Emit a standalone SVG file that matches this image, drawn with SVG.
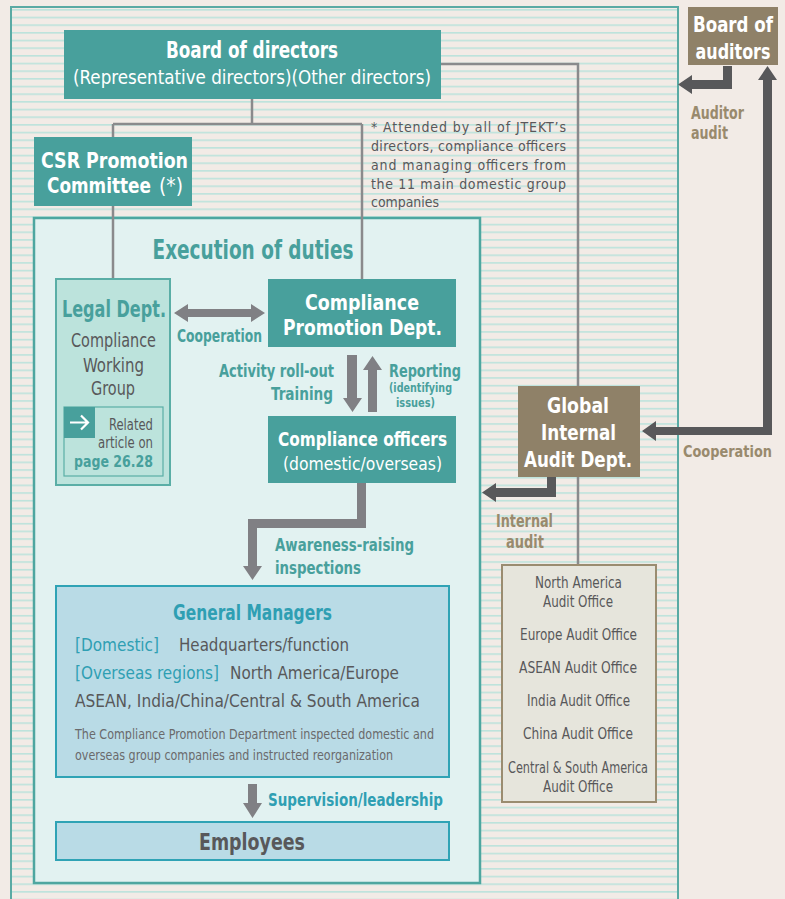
<svg xmlns="http://www.w3.org/2000/svg" width="785" height="899" viewBox="0 0 785 899">
<defs>
<pattern id="stripes" patternUnits="userSpaceOnUse" x="0" y="9" width="20" height="7.67">
<rect width="20" height="7.67" fill="#f2ebe6"/>
<rect y="0" width="20" height="1.6" fill="#bde3dc"/>
</pattern>
<style>
text{font-family:"Liberation Sans Narrow","DejaVu Sans Condensed","Liberation Sans",sans-serif;}
.b{font-weight:bold;}
.w{fill:#ffffff;}
.t{fill:#48a09c;}
.bl{fill:#2f9fb3;}
.g{fill:#58585a;}
.br{fill:#998a6d;}
.c{text-anchor:middle;}
.r{text-anchor:end;}
.teal{fill:#48a09c;}
.brown{fill:#8f8168;}
.line{fill:none;stroke:#8a8a8c;stroke-width:2.5;}
.ga{fill:#808084;}
.da{fill:#58585a;}
</style>
</defs>
<rect width="785" height="899" fill="#f2ebe6"/>
<rect x="11" y="7" width="667" height="900" fill="url(#stripes)" stroke="#5aaaa4" stroke-width="2"/>

<g id="execution-of-duties">
<rect x="34" y="218" width="446" height="665" fill="#e2f2f1" stroke="#4ea6a0" stroke-width="2.5"/>
<text class="b t c" x="253" y="259" font-size="27" textLength="201" lengthAdjust="spacingAndGlyphs">Execution of duties</text>
</g>

<g id="connectors">
<path class="line" d="M252 99 V124 M113 124 H362 M113 124 V279 M362 124 V279 M441 64 H578 V565"/>
<polygon class="ga" points="174,313 188,304 188,309 251,309 251,304 265,313 251,322 251,317 188,317 188,322"/>
<polygon class="ga" points="347,355 357,355 357,398 362,398 352.5,412 343,398 347,398"/>
<polygon class="ga" points="372.5,356 382,370 377,370 377,412 368,412 368,370 363,370"/>
<polygon class="ga" points="357,483 366,483 366,528 257,528 257,566 262,566 252.5,580 243,566 248,566 248,519 357,519"/>
<polygon class="ga" points="248,784 257,784 257,803 262,803 252.5,818 243,803 248,803"/>
<polygon class="da" points="723,66 732,66 732,89 692,89 692,94 678,84.5 692,75 692,80 723,80"/>
<polygon class="da" points="767.5,66 777,80 772,80 772,435 656,435 656,441 642,431 656,421 656,427 763,427 763,80 758,80"/>
<polygon class="da" points="547,477 556,477 556,497 496,497 496,502 482,492.5 496,483 496,488 547,488"/>
</g>

<g id="board-of-directors">
<rect class="teal" x="64" y="30" width="377" height="69"/>
<text class="b w c" x="252" y="58" font-size="23" textLength="172" lengthAdjust="spacingAndGlyphs">Board of directors</text>
<text class="w c" x="252" y="84" font-size="19" textLength="358" lengthAdjust="spacingAndGlyphs">(Representative directors)(Other directors)</text>
</g>

<g id="csr-committee">
<rect class="teal" x="34" y="137" width="158" height="69"/>
<text class="b w" x="41" y="168" font-size="22" textLength="147" lengthAdjust="spacingAndGlyphs">CSR Promotion</text>
<text class="b w" x="47" y="193" font-size="22" textLength="104" lengthAdjust="spacingAndGlyphs">Committee</text>
<text class="w" x="159" y="193" font-size="21" textLength="24" lengthAdjust="spacingAndGlyphs">(*)</text>
</g>

<g id="note">
<text class="g" x="371" y="132" font-size="14" textLength="195" lengthAdjust="spacing">* Attended by all of JTEKT’s</text>
<text class="g" x="371" y="151" font-size="14" textLength="195" lengthAdjust="spacing">directors, compliance officers</text>
<text class="g" x="371" y="170" font-size="14" textLength="195" lengthAdjust="spacing">and managing officers from</text>
<text class="g" x="371" y="189" font-size="14" textLength="195" lengthAdjust="spacing">the 11 main domestic group</text>
<text class="g" x="371" y="207" font-size="14" textLength="68" lengthAdjust="spacingAndGlyphs">companies</text>
</g>

<g id="board-of-auditors">
<rect class="brown" x="688" y="7" width="90" height="58"/>
<text class="b w c" x="733" y="32" font-size="21" textLength="80" lengthAdjust="spacingAndGlyphs">Board of</text>
<text class="b w c" x="733" y="59" font-size="21" textLength="75" lengthAdjust="spacingAndGlyphs">auditors</text>
</g>
<g id="label-auditor-audit">
<text class="b br" x="691" y="119" font-size="17" textLength="53" lengthAdjust="spacingAndGlyphs">Auditor</text>
<text class="b br" x="691" y="139" font-size="17" textLength="37" lengthAdjust="spacingAndGlyphs">audit</text>
</g>

<g id="legal-dept">
<rect x="56" y="279" width="114" height="206" fill="#bce3dc" stroke="#5aaea6" stroke-width="2"/>
<text class="b t c" x="114" y="317" font-size="23" textLength="104" lengthAdjust="spacingAndGlyphs">Legal Dept.</text>
<text class="g c" x="113.5" y="347" font-size="19" textLength="85" lengthAdjust="spacingAndGlyphs">Compliance</text>
<text class="g c" x="113.5" y="372" font-size="19" textLength="61" lengthAdjust="spacingAndGlyphs">Working</text>
<text class="g c" x="113" y="395" font-size="19" textLength="44" lengthAdjust="spacingAndGlyphs">Group</text>
<rect x="64" y="407" width="99" height="69" fill="none" stroke="#5aaea6" stroke-width="1.2"/>
<rect class="teal" x="64" y="407" width="31" height="31"/>
<path d="M70 422.5 H88 M81 415.5 L88 422.5 L81 429.5" fill="none" stroke="#ffffff" stroke-width="2.2"/>
<text class="g r" x="153" y="430" font-size="15" textLength="44" lengthAdjust="spacingAndGlyphs">Related</text>
<text class="g r" x="153" y="448" font-size="15" textLength="55" lengthAdjust="spacingAndGlyphs">article on</text>
<text class="b t r" x="153" y="467" font-size="16" textLength="79" lengthAdjust="spacingAndGlyphs">page 26.28</text>
</g>

<g id="label-cooperation">
<text class="b t" x="177" y="342" font-size="17" textLength="85" lengthAdjust="spacingAndGlyphs">Cooperation</text>
</g>

<g id="compliance-promotion-dept">
<rect class="teal" x="268" y="279" width="188" height="68"/>
<text class="b w c" x="362" y="310" font-size="22" textLength="114" lengthAdjust="spacingAndGlyphs">Compliance</text>
<text class="b w c" x="362.5" y="335" font-size="22" textLength="159" lengthAdjust="spacingAndGlyphs">Promotion Dept.</text>
</g>

<g id="label-rollout">
<text class="b t r" x="334" y="377" font-size="17" textLength="115" lengthAdjust="spacingAndGlyphs">Activity roll-out</text>
<text class="b t r" x="333" y="400" font-size="17" textLength="62" lengthAdjust="spacingAndGlyphs">Training</text>
</g>
<g id="label-reporting">
<text class="b t" x="389" y="377" font-size="17" textLength="72" lengthAdjust="spacingAndGlyphs">Reporting</text>
<text class="b t" x="389" y="392" font-size="12.5" textLength="63" lengthAdjust="spacingAndGlyphs">(identifying</text>
<text class="b t" x="396" y="407" font-size="12.5" textLength="39" lengthAdjust="spacingAndGlyphs">issues)</text>
</g>

<g id="compliance-officers">
<rect class="teal" x="268" y="416" width="188" height="67"/>
<text class="b w c" x="362.5" y="446" font-size="20" textLength="169" lengthAdjust="spacingAndGlyphs">Compliance officers</text>
<text class="w c" x="362.5" y="470" font-size="18" textLength="159" lengthAdjust="spacingAndGlyphs">(domestic/overseas)</text>
</g>

<g id="label-awareness">
<text class="b t" x="275" y="551" font-size="17" textLength="139" lengthAdjust="spacingAndGlyphs">Awareness-raising</text>
<text class="b t" x="275" y="574" font-size="17" textLength="86" lengthAdjust="spacingAndGlyphs">inspections</text>
</g>

<g id="general-managers">
<rect x="56" y="586" width="393" height="191" fill="#b9dbe6" stroke="#2fa3b5" stroke-width="2"/>
<text class="b bl c" x="252.5" y="620" font-size="21" textLength="159" lengthAdjust="spacingAndGlyphs">General Managers</text>
<text class="bl" x="75" y="651" font-size="18" textLength="84" lengthAdjust="spacingAndGlyphs">[Domestic]</text>
<text class="g" x="179" y="651" font-size="18" textLength="170" lengthAdjust="spacingAndGlyphs">Headquarters/function</text>
<text class="bl" x="75" y="679" font-size="18" textLength="144" lengthAdjust="spacingAndGlyphs">[Overseas regions]</text>
<text class="g" x="230" y="679" font-size="18" textLength="169" lengthAdjust="spacingAndGlyphs">North America/Europe</text>
<text class="g" x="75" y="707" font-size="18" textLength="345" lengthAdjust="spacingAndGlyphs">ASEAN, India/China/Central &amp; South America</text>
<text x="75" y="739" font-size="14" fill="#6a6a6c" textLength="359" lengthAdjust="spacingAndGlyphs">The Compliance Promotion Department inspected domestic and</text>
<text x="75" y="760" font-size="14" fill="#6a6a6c" textLength="318" lengthAdjust="spacingAndGlyphs">overseas group companies and instructed reorganization</text>
</g>

<g id="label-supervision">
<text class="b bl" x="268" y="806" font-size="17" textLength="175" lengthAdjust="spacingAndGlyphs">Supervision/leadership</text>
</g>

<g id="employees">
<rect x="56" y="822" width="393" height="38" fill="#b9dbe6" stroke="#2fa3b5" stroke-width="2"/>
<text class="b g c" x="252" y="850" font-size="23" textLength="106" lengthAdjust="spacingAndGlyphs">Employees</text>
</g>

<g id="global-internal-audit-dept">
<rect class="brown" x="518" y="386" width="122" height="91"/>
<text class="b w c" x="578" y="413" font-size="22" textLength="62" lengthAdjust="spacingAndGlyphs">Global</text>
<text class="b w c" x="578.5" y="440" font-size="22" textLength="75" lengthAdjust="spacingAndGlyphs">Internal</text>
<text class="b w c" x="578" y="467" font-size="22" textLength="108" lengthAdjust="spacingAndGlyphs">Audit Dept.</text>
</g>

<g id="label-cooperation-audit">
<text class="b br" x="683" y="457" font-size="16.5" textLength="89" lengthAdjust="spacingAndGlyphs">Cooperation</text>
</g>
<g id="label-internal-audit">
<text class="b br" x="496" y="527" font-size="17" textLength="57" lengthAdjust="spacingAndGlyphs">Internal</text>
<text class="b br" x="506" y="548" font-size="17" textLength="38" lengthAdjust="spacingAndGlyphs">audit</text>
</g>

<g id="audit-offices">
<rect x="502" y="565" width="154" height="237" fill="#e6e5dc" stroke="#9a8c70" stroke-width="2"/>
<text class="g c" x="578.5" y="588" font-size="15.5" textLength="87" lengthAdjust="spacingAndGlyphs">North America</text>
<text class="g c" x="578" y="607" font-size="15.5" textLength="70" lengthAdjust="spacingAndGlyphs">Audit Office</text>
<text class="g c" x="578.5" y="640" font-size="15.5" textLength="117" lengthAdjust="spacingAndGlyphs">Europe Audit Office</text>
<text class="g c" x="578" y="673" font-size="15.5" textLength="118" lengthAdjust="spacingAndGlyphs">ASEAN Audit Office</text>
<text class="g c" x="578.5" y="706" font-size="15.5" textLength="103" lengthAdjust="spacingAndGlyphs">India Audit Office</text>
<text class="g c" x="578" y="739" font-size="15.5" textLength="110" lengthAdjust="spacingAndGlyphs">China Audit Office</text>
<text class="g c" x="578" y="773" font-size="15.5" textLength="140" lengthAdjust="spacingAndGlyphs">Central &amp; South America</text>
<text class="g c" x="578" y="792" font-size="15.5" textLength="70" lengthAdjust="spacingAndGlyphs">Audit Office</text>
</g>
</svg>
